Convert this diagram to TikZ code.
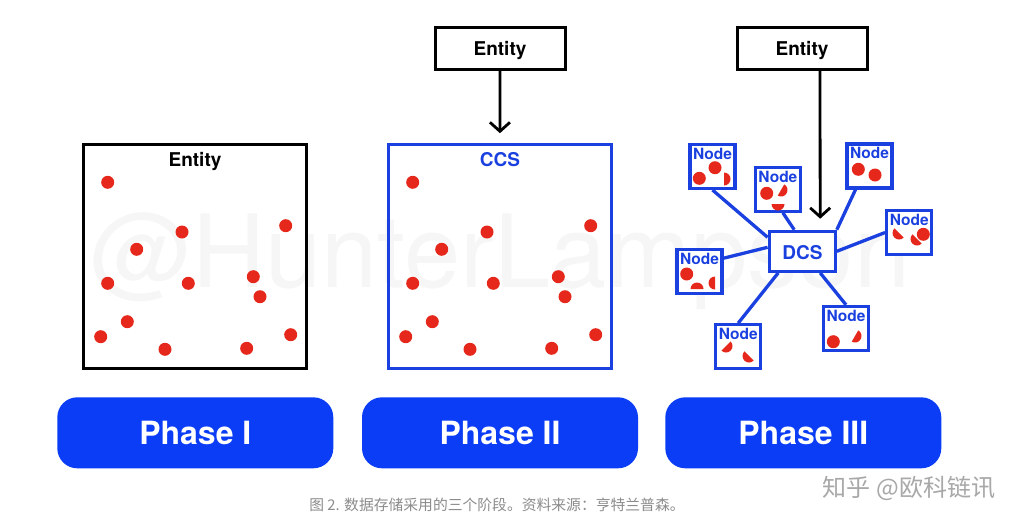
\documentclass[tikz,border=0pt]{standalone}
\usepackage{fontspec}
\setmainfont{TeX Gyre Heros}
\newfontfamily\cjk{Noto Sans CJK SC}
\usetikzlibrary{arrows.meta,backgrounds}
\definecolor{pblue}{HTML}{0A3DF5}
\definecolor{lblue}{HTML}{1A40E0}
\definecolor{dotred}{HTML}{E5281B}
\definecolor{wm}{HTML}{F6F6F6}
\definecolor{capgray}{HTML}{8C8C8C}
\definecolor{zhgray}{HTML}{A8A8A8}
\newcommand{\hdisk}[3]{\fill[dotred] (#1,#2) ++(#3-90:6.5) arc[start angle=#3-90, end angle=#3+90, radius=6.5] -- cycle;}
\begin{document}
\begin{tikzpicture}[x=1pt,y=-1pt,
  panel/.style={draw, line width=3.2pt, minimum width=223pt, minimum height=224pt, inner sep=0pt},
  ebox/.style={draw=black, line width=3pt, minimum width=130pt, minimum height=42pt, inner sep=0pt, fill=white},
  nbox/.style={draw=lblue, line width=3.2pt, minimum width=45pt, minimum height=44pt, inner sep=0pt, fill=white},
  dbox/.style={draw=lblue, line width=3.2pt, minimum width=66pt, minimum height=40pt, inner sep=0pt, fill=white},
  lbl/.style={font=\fontsize{19}{22}\selectfont\bfseries, inner sep=0pt, anchor=base},
  nlbl/.style={font=\fontsize{15.5}{18}\selectfont\bfseries, text=lblue, inner sep=0pt, anchor=base},
  phase/.style={fill=pblue, rounded corners=20pt, minimum width=276pt, minimum height=71pt, inner sep=0pt, text=white, font=\fontsize{32}{36}\selectfont\bfseries},
  conn/.style={draw=lblue, line width=3.3pt},
  arr/.style={draw=black, line width=2.8pt, -{Straight Barb[length=9pt,width=20pt]}},
  wmark/.style={font=\fontsize{101}{110}\selectfont, text=wm, inner sep=0pt, anchor=base west}
]
\useasboundingbox (0,0) rectangle (1024,530);
\begin{scope}[on background layer]
  \fill[white] (0,0) rectangle (1024,530);
  \node[wmark] (wmk) at (90,287) {@HunterLampson};
\end{scope}

% Panel I
\node[panel, draw=black] (p1) at (194.8,256.3) {};
\node[lbl] (p1l) at (195,166.5) {Entity};
% Panel II
\node[panel, draw=lblue] (p2) at (499.8,256.3) {};
\node[lbl, text=lblue] (p2l) at (500,166.5) {CCS};
\foreach \x/\y in {107.7/182.3, 182/232, 285.7/225.7, 136.7/249.3, 107.7/283.3, 188.3/283.3, 253.3/276.7, 260/296.7, 127.3/321.7, 100.7/336.7, 165/349.3, 246.7/348.3, 290.7/334.7}{
  \fill[dotred] (\x,\y) circle[radius=6.5];
  \fill[dotred] (\x+305,\y) circle[radius=6.5];
}
% Entity boxes
\node[ebox] (e2) at (500,48) {};
\node[lbl] (e2l) at (500,55.5) {Entity};
\draw[arr, shorten >=9.5pt] (e2) -- (p2);

\node[ebox] (e3) at (802,48) {};
\node[lbl] (e3l) at (802,55.5) {Entity};

% Panel III
\node[dbox] (dcs) at (802.2,251.3) {};
\node[lbl, text=lblue] (dcsl) at (802.5,259) {DCS};
\node[nbox] (n1) at (712.5,166.4) {};
\node[nbox] (n2) at (777.9,189.2) {};
\node[nbox] (n3) at (869.5,166) {};
\node[nbox] (n4) at (909.2,232.5) {};
\node[nbox] (n5) at (699.5,271.2) {};
\node[nbox] (n6) at (738.2,346.7) {};
\node[nbox] (n7) at (846,328.4) {};
\foreach \n in {n1,n2,n3,n4,n5,n6,n7}{
  \node[nlbl] at ([yshift=-16.5pt]\n.north) {Node};
}
\begin{scope}[on background layer]
  \draw[conn] (n1.south) -- ([yshift=14pt]dcs.west);
  \draw[conn] ([xshift=5pt]n2.south) -- ([xshift=-8pt]dcs.north);
  \draw[conn] ([xshift=-14pt]n3.south) -- (dcs.north east);
  \draw[conn] (n4.west) -- (dcs.east);
  \draw[conn] ([yshift=13pt]n5.east) -- ([yshift=4pt]dcs.west);
  \draw[conn] (n6.north) -- ([xshift=-24pt]dcs.south);
  \draw[conn] (n7.north) -- ([xshift=18pt]dcs.south);
\end{scope}
\draw[arr, shorten >=11pt] ([xshift=18pt]e3.south) -- ([xshift=18pt]dcs.north);

% dots in nodes
\fill[dotred] (699.3,178.3) circle[radius=6.5];
\fill[dotred] (715,167.7) circle[radius=6.5];
\hdisk{724}{179}{0}
\fill[dotred] (766.7,193.3) circle[radius=6.5];
\hdisk{781}{190}{30}
\hdisk{778}{204}{90}
\fill[dotred] (858.3,169.3) circle[radius=6.5];
\fill[dotred] (875,175) circle[radius=6.5];
\hdisk{899}{233}{135}
\hdisk{917}{239}{135}
\fill[dotred] (923.3,234.3) circle[radius=6.5];
\fill[dotred] (686.7,274) circle[radius=6.5];
\hdisk{697}{289}{-90}
\hdisk{715}{283}{180}
\hdisk{726}{346}{45}
\hdisk{749}{356}{135}
\fill[dotred] (833.3,341.7) circle[radius=6.5];
\hdisk{855}{336}{30}

% Phase buttons
\node[phase] (ph1) at (195.3,432.8) {Phase I};
\node[phase] (ph2) at (500,432.8) {Phase II};
\node[phase] (ph3) at (803.3,432.8) {Phase III};

% captions
\node[font=\cjk\fontsize{14.8}{17}\selectfont, text=capgray, inner sep=0pt] (caption) at (497,505) {图 2. 数据存储采用的三个阶段。资料来源：亨特兰普森。};
\node[font=\cjk\fontsize{24}{28}\selectfont, text=zhgray, inner sep=0pt] (zh) at (909,488) {知乎 @欧科链讯};
\end{tikzpicture}
\end{document}
